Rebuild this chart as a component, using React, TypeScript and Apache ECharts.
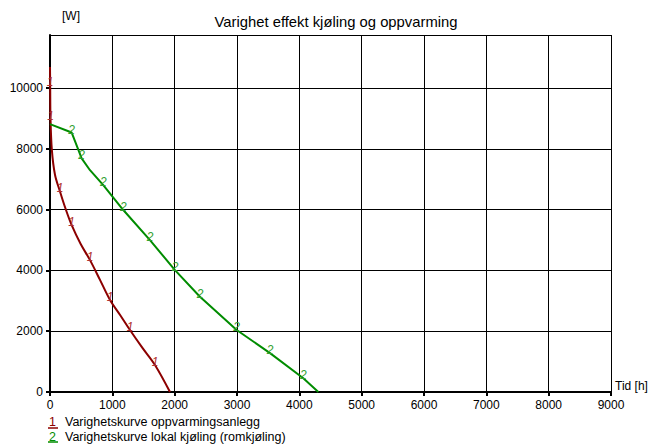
import React, { useEffect, useRef } from "react";
import * as echarts from "echarts";

const titleText = "Varighet effekt kjøling og oppvarming";
const yAxisName = "[W]";
const xAxisName = "Tid [h]";

const heatingName = "Varighetskurve oppvarmingsanlegg";
const heatingMarker = "1";
const heatingHours = [0, 3, 8, 30, 80, 160, 250, 348, 490, 642, 800, 963, 1130, 1283, 1480, 1684, 1925];
const heatingWatts = [10700, 10100, 9000, 7960, 7150, 6600, 6030, 5490, 4880, 4340, 3700, 3030, 2520, 2040, 1460, 890, 0];
const heatingLabelIdx = [1, 2, 5, 7, 9, 11, 13, 15];

const coolingName = "Varighetskurve lokal kjøling (romkjøling)";
const coolingMarker = "2";
const coolingHours = [0, 348, 508, 642, 855, 1176, 1604, 2005, 2406, 2995, 3530, 4064, 4305];
const coolingWatts = [8816, 8540, 7690, 7300, 6810, 5990, 5000, 4010, 3135, 2040, 1280, 450, 0];
const coolingLabelIdx = [1, 2, 4, 5, 6, 7, 8, 9, 10, 11];

const FONT = "'Liberation Sans', Arial, sans-serif";
const RED = "#8c0000";
const GREEN = "#008c00";
const RED_LABEL = "#b03030";
const GREEN_LABEL = "#30a030";

function buildData(xs: number[], ys: number[], labelIdx: number[], marker: string, color: string) {
  return xs.map((x, i) => {
    const item: any = { value: [x, ys[i]] };
    if (labelIdx.includes(i)) {
      item.label = {
        show: true,
        formatter: marker,
        position: "top",
        distance: -3,
        offset: [2, 0],
        color,
        fontSize: 12,
        fontStyle: "italic",
        fontFamily: FONT,
      };
    }
    return item;
  });
}

export default function App() {
  const ref = useRef<HTMLDivElement>(null);
  useEffect(() => {
    if (!ref.current) return;
    const chart = echarts.init(ref.current, null, { renderer: "svg" });
    const axisLabel = {
      color: "#000",
      fontSize: 12,
      fontFamily: FONT,
      formatter: (v: number) => String(v),
    };
    chart.setOption({
      animation: false,
      backgroundColor: "#fff",
      title: {
        text: titleText,
        left: 331,
        textAlign: "center",
        top: 9,
        textStyle: { color: "#000", fontSize: 14.8, fontWeight: "normal", fontFamily: FONT },
      },
      grid: { left: 50, right: 52, top: 35, bottom: 53, containLabel: false },
      xAxis: {
        type: "value",
        min: 0,
        max: 9000,
        interval: 1000,
        name: xAxisName,
        nameLocation: "end",
        nameGap: 4,
        nameTextStyle: { color: "#000", fontSize: 12, fontFamily: FONT, verticalAlign: "bottom", align: "left" },
        axisLine: { show: true, lineStyle: { color: "#000", width: 2 } },
        axisTick: { show: true, length: 4, lineStyle: { color: "#000", width: 2 } },
        axisLabel: { ...axisLabel, margin: 7 },
        splitLine: { show: true, lineStyle: { color: "#000", width: 1 } },
      },
      yAxis: {
        type: "value",
        min: 0,
        max: 11750,
        interval: 2000,
        name: yAxisName,
        nameLocation: "end",
        nameGap: 13,
        nameTextStyle: { color: "#000", fontSize: 12, fontFamily: FONT, align: "left", padding: [0, 0, 0, 12] },
        axisLine: { show: true, lineStyle: { color: "#000", width: 2 } },
        axisTick: { show: true, length: 4, lineStyle: { color: "#000", width: 2 } },
        axisLabel: { ...axisLabel, margin: 7, showMaxLabel: false },
        splitLine: { show: true, lineStyle: { color: "#000", width: 1 } },
      },
      series: [
        {
          name: heatingName,
          type: "line",
          data: buildData(heatingHours, heatingWatts, heatingLabelIdx, heatingMarker, RED_LABEL),
          showSymbol: true,
          symbol: "circle",
          symbolSize: 0,
          smooth: 0.35,
          lineStyle: { color: RED, width: 2 },
          itemStyle: { color: RED },
          labelLayout: { hideOverlap: false },
          z: 3,
        },
        {
          name: coolingName,
          type: "line",
          data: buildData(coolingHours, coolingWatts, coolingLabelIdx, coolingMarker, GREEN_LABEL),
          showSymbol: true,
          symbol: "circle",
          symbolSize: 0,
          lineStyle: { color: GREEN, width: 2 },
          itemStyle: { color: GREEN },
          labelLayout: { hideOverlap: false },
          z: 3,
        },
      ],
      graphic: [
        { type: "text", left: 49, top: 415, style: { text: heatingMarker, fill: RED, font: `12.5px ${FONT}` } },
        { type: "line", shape: { x1: 48, y1: 428, x2: 58, y2: 428 }, style: { stroke: RED, lineWidth: 1.5 } },
        { type: "text", left: 65, top: 415, style: { text: heatingName, fill: "#000", font: `12.5px ${FONT}` } },
        { type: "text", left: 49, top: 430, style: { text: coolingMarker, fill: GREEN, font: `12.5px ${FONT}` } },
        { type: "line", shape: { x1: 48, y1: 442, x2: 58, y2: 442 }, style: { stroke: GREEN, lineWidth: 1.5 } },
        { type: "text", left: 65, top: 430, style: { text: coolingName, fill: "#000", font: `12.5px ${FONT}` } },
      ],
    });
    return () => chart.dispose();
  }, []);
  return <div ref={ref} style={{ width: 663, height: 445, position: "absolute", left: 0, top: 0 }} />;
}
